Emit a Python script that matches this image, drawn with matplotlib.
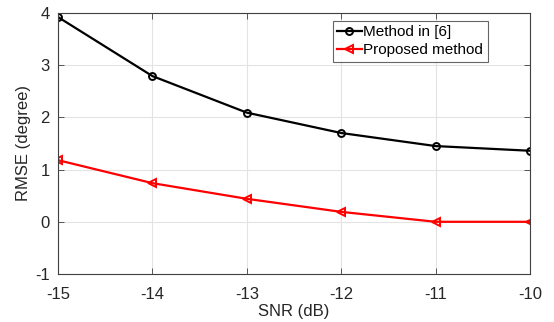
import matplotlib
matplotlib.use("Agg")
import matplotlib.pyplot as plt

snr = [-15, -14, -13, -12, -11, -10]
method6 = [3.92, 2.79, 2.09, 1.70, 1.45, 1.36]
proposed = [1.18, 0.74, 0.44, 0.19, 0.0, 0.0]
xticks = [-15, -14, -13, -12, -11, -10]
yticks = [-1, 0, 1, 2, 3, 4]

plt.rcParams['font.family'] = ['Liberation Sans', 'DejaVu Sans']
fig = plt.figure(figsize=(5.54, 3.22), dpi=100)
ax = fig.add_axes([0.1047, 0.149, 0.852, 0.811])

ax.plot(snr, method6, color='black', lw=1.6, marker='o', ms=5, mfc='none', mew=1.4, label='Method in [6]')
ax.plot(snr, proposed, color='red', lw=1.6, marker='<', ms=6, mfc='none', mew=1.4, label='Proposed method')

ax.set_xlim(-15, -10)
ax.set_ylim(-1, 4)
ax.set_xticks(xticks)
ax.set_yticks(yticks)
ax.set_xticklabels([str(t) for t in xticks])
ax.set_yticklabels([str(t) for t in yticks])
ax.grid(True, color='#e3e3e3', lw=0.8)
ax.set_axisbelow(True)
for s in ax.spines.values():
    s.set_color('#404040')
    s.set_linewidth(0.8)
ax.tick_params(direction='in', top=True, right=True, length=4, width=0.6, colors='#404040', labelsize=12, labelcolor='#262626')
ax.tick_params(axis='x', pad=9)
ax.tick_params(axis='y', pad=6)
ax.set_xlabel('SNR (dB)', fontsize=12, color='#262626', labelpad=2)
ax.set_ylabel('RMSE (degree)', fontsize=12, color='#262626', labelpad=3)

leg = ax.legend(loc='upper right', bbox_to_anchor=(0.91, 0.97), fontsize=11, frameon=True, fancybox=False,
                edgecolor='#404040', handlelength=1.6, handletextpad=0.1, borderpad=0.3, labelspacing=0.25, borderaxespad=0)
leg.get_frame().set_linewidth(0.8)

fig.savefig('out.png', dpi=100)
